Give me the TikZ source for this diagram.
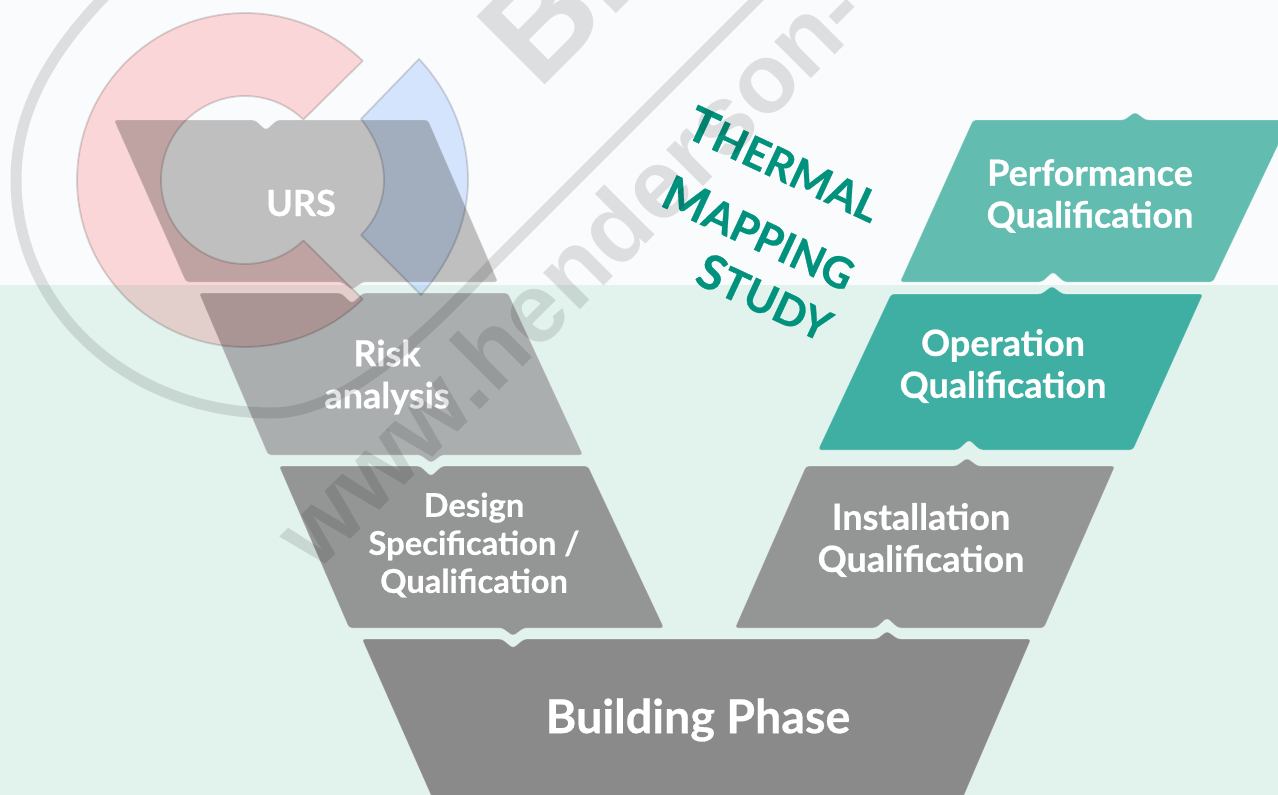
\documentclass[tikz,border=0pt]{standalone}
\usepackage{fontspec}
\setmainfont{Lato}[BoldFeatures={FakeBold=0.6}]
\newfontfamily\wmfont{Liberation Sans}
\definecolor{bgtop}{RGB}{250,251,253}
\definecolor{bgbot}{RGB}{226,243,238}
\definecolor{cursbox}{RGB}{190,191,190}
\definecolor{criskbox}{RGB}{170,174,174}
\definecolor{cgreybox}{RGB}{148,150,149}
\definecolor{cbuild}{RGB}{138,138,138}
\definecolor{coqbox}{RGB}{64,175,163}
\definecolor{cpqbox}{RGB}{98,188,176}
\definecolor{ctitle}{RGB}{0,146,125}
\definecolor{clogored}{RGB}{255,218,218}
\definecolor{clogoblue}{RGB}{218,232,255}
\definecolor{clogoline}{RGB}{218,218,218}
\tikzset{
  vbox/.style={rounded corners=3pt,draw=white,draw opacity=.35,line width=.8pt},
  boxtext/.style={text=white,align=center,font=\bfseries\fontsize{#1}{#1}\selectfont,inner sep=0pt},
  logoshape/.style={draw=clogoline,line width=1.8pt,line join=round,blend mode=multiply},
  wmark/.style={black,opacity=.115},
  wmtext/.style={text=black,text opacity=.115,inner sep=0pt,rotate=45,anchor=base west},
  titletext/.style={text=ctitle,inner sep=0pt,rotate=-25,font=\bfseries},
}
% left-hand block: colour, top-left x, top-right x, top y, bottom-left x, bottom-right x, bottom y, notch x, tab x
\newcommand\downblock[9]{%
  \fill[#1,vbox] (#2,#4) -- ({#8-11},#4) -- (#8,{#4+10}) -- ({#8+11},#4) -- (#3,#4)
    -- (#6,#7) -- ({#9+11},#7) -- (#9,{#7+8}) -- ({#9-11},#7) -- (#5,#7) -- cycle;}
% right-hand block: colour, top-left x, top-right x, top y, bottom-left x, bottom-right x, bottom y, tab x, notch x
\newcommand\upblock[9]{%
  \fill[#1,vbox] (#2,#4) -- ({#8-11},#4) -- (#8,{#4-8}) -- ({#8+11},#4) -- (#3,#4)
    -- (#6,#7) -- ({#9+11},#7) -- (#9,{#7-10}) -- ({#9-11},#7) -- (#5,#7) -- cycle;}
\newcommand\bigT[2]{{\fontsize{#1}{#1}\selectfont #2}}
\begin{document}
\begin{tikzpicture}[x=1pt,y=-1pt]
\useasboundingbox (0,0) rectangle (1278,795);
\clip (0,0) rectangle (1278,795);
% background bands
\fill[bgtop] (0,0) rectangle (1278,285);
\fill[bgbot] (0,285) rectangle (1278,795);
% blocks
\downblock{cursbox}{114}{428}{120}{186}{498}{282}{266}{352}
\downblock{criskbox}{199}{508}{293}{268}{583}{455}{352}{431}
\downblock{cgreybox}{279}{588}{466}{349}{664}{628}{431}{513}
\upblock{cgreybox}{806}{1115}{466}{735}{1044}{628}{967}{887}
\upblock{coqbox}{891}{1203}{294}{818}{1133}{450}{1052}{969}
\upblock{cpqbox}{973}{1290}{120}{900}{1213}{282}{1135}{1053}
\fill[cbuild,vbox] (362,639) -- (502,639) -- (513,648) -- (524,639) -- (877,639) -- (887,631) -- (898,639)
  -- (1031,639) -- (962,800) -- (433,800) -- cycle;
% red and blue logo
\path[logoshape,fill=clogored]
  plot[domain=-45.5:-314.5,samples=90] ({245+168*cos(\x)},{180+167*sin(\x)})
  -- plot[domain=46:314,samples=90] ({245+84*cos(\x)},{180+84*sin(\x)}) -- cycle;
\path[logoshape,fill=clogoblue] (419,59)
  .. controls (450,92) and (468,135) .. (468,180)
  .. controls (468,222) and (450,262) .. (421,295)
  -- (361,235)
  .. controls (376,220) and (384,200) .. (384,180)
  .. controls (384,158) and (375,137) .. (361,119) -- cycle;
% block labels
\node[boxtext=36] (urs) at (301,203) {URS};
\node[boxtext=36] (risk) at (387,377) {Risk\\[6pt]analysis};
\node[boxtext=32.7] (design) at (474,545) {Design\\[5.3pt]Specification /\\[5.3pt]Qualification};
\node[boxtext=36] (iq) at (921,540) {Installation\\[6pt]Qualification};
\node[boxtext=36] (oq) at (1003,366) {Operation\\[6pt]Qualification};
\node[boxtext=36] (pq) at (1090,196) {Performance\\[6pt]Qualification};
\node[boxtext=46.6] (build) at (698,720) {Building Phase};
% title
\node[titletext] (t1) at (784,164) {\bigT{48}{T}\bigT{43}{HERMAL}};
\node[titletext] (t2) at (759,233) {\bigT{48}{M}\bigT{43}{APPING}};
\node[titletext] (t3) at (765,297) {\bigT{48}{S}\bigT{43}{TUDY}};
% watermark
\path[wmark,draw,line width=11pt] (107,-6)
  .. controls (47,55) and (16,115) .. (16,180)
  .. controls (16,310) and (130,413) .. (272,413)
  .. controls (345,413) and (425,335) .. (493,263) -- (765,-9);
\node[wmtext,font=\wmfont\bfseries\fontsize{98}{98}\selectfont] (www) at (316,574) {www.henderson-};
\node[wmtext,font=\wmfont\bfseries\fontsize{140}{140}\selectfont] (bio) at (538,92) {Bi};
\end{tikzpicture}
\end{document}
